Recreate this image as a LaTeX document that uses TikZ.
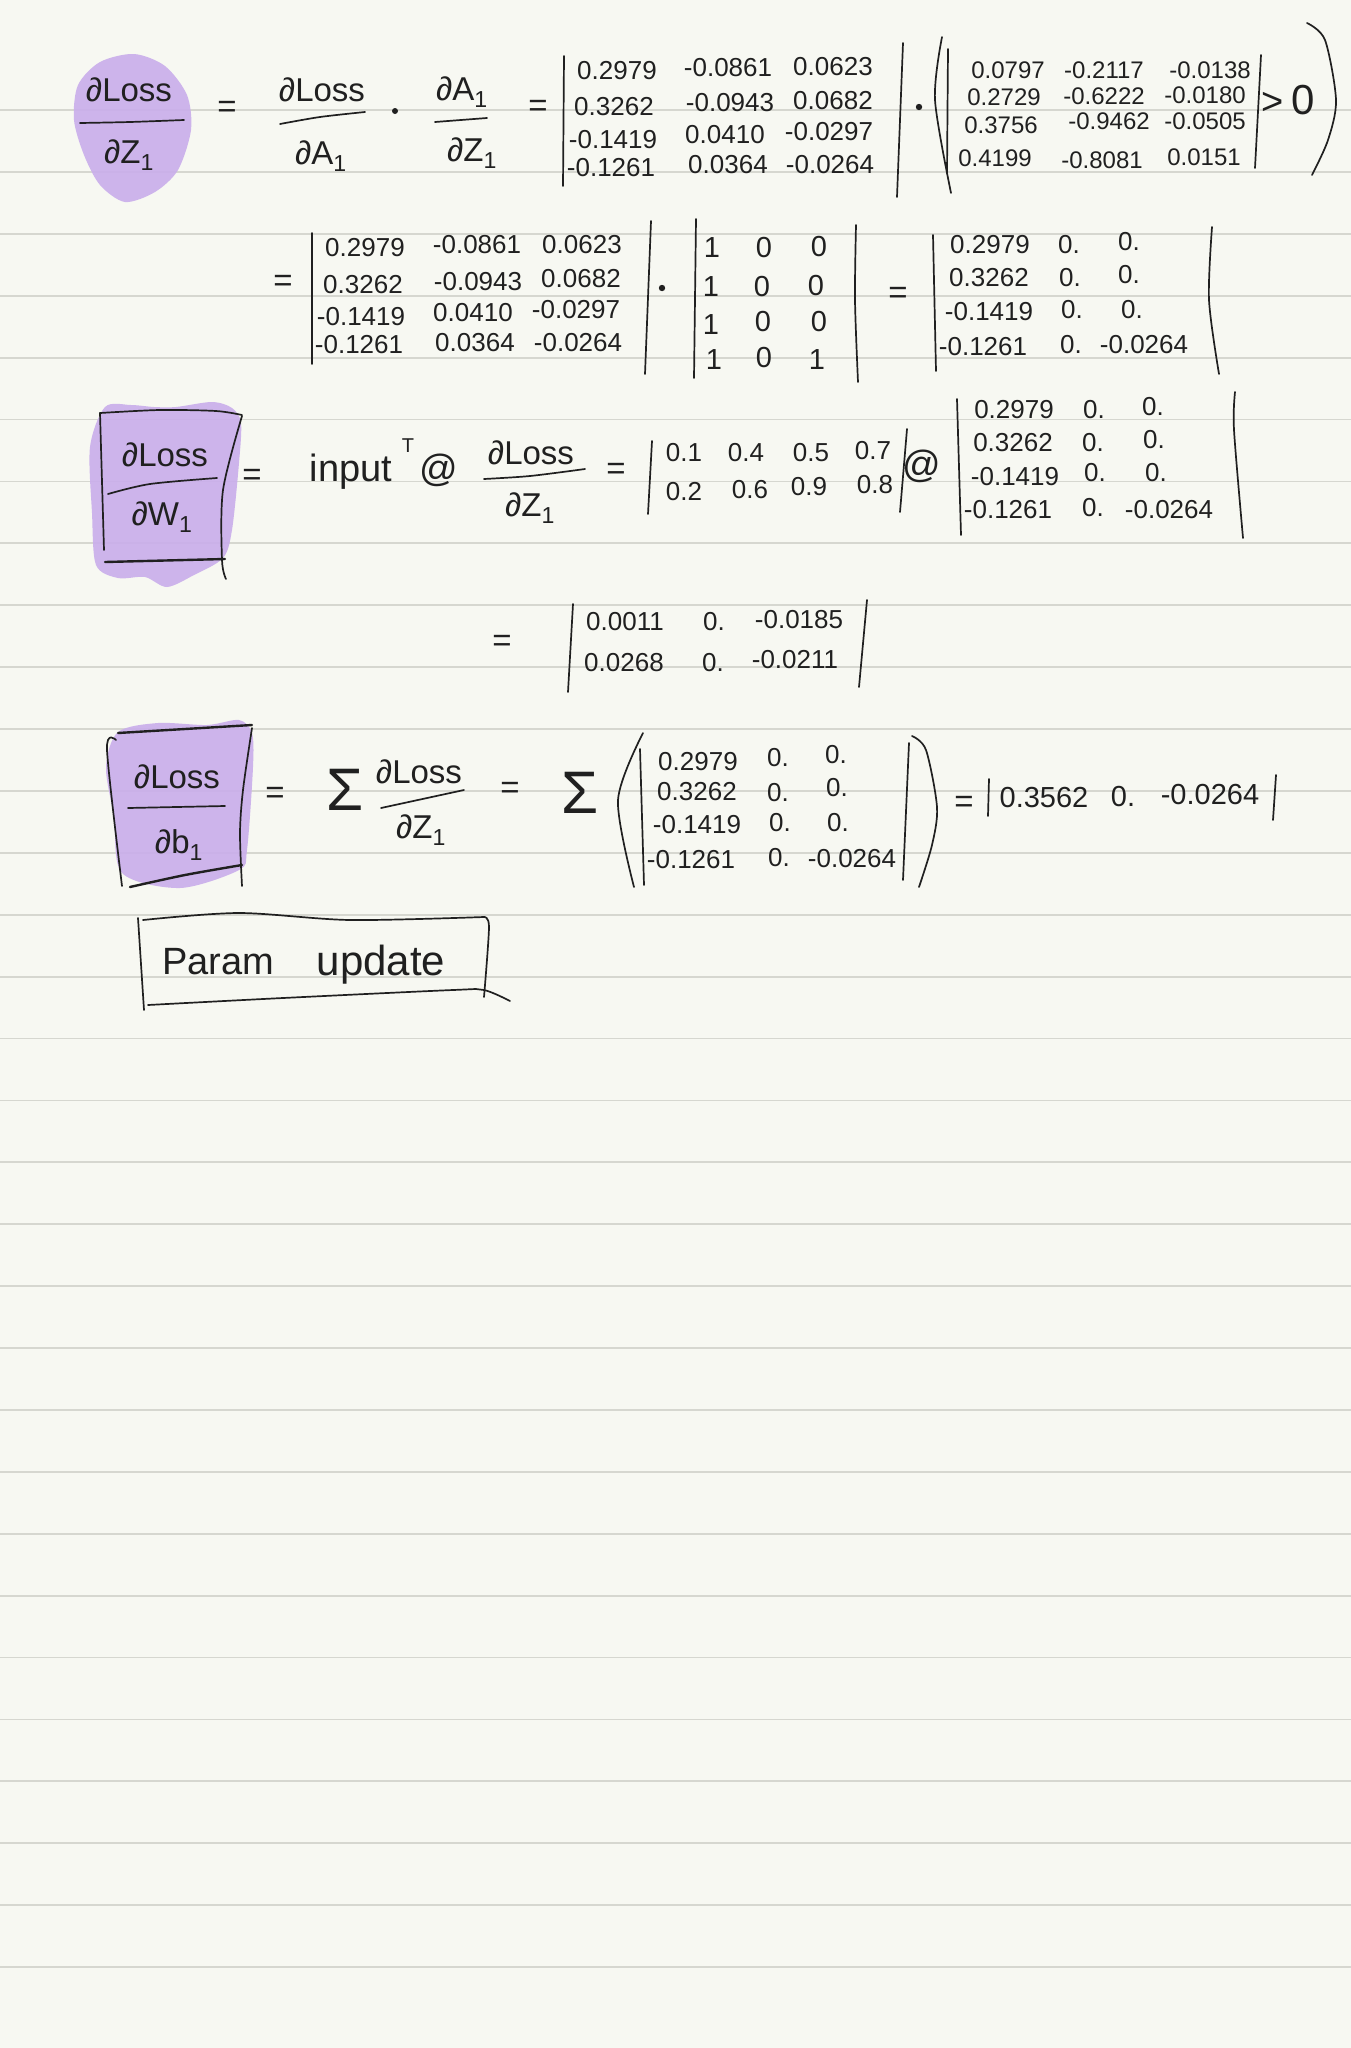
\documentclass[tikz,border=0pt]{standalone}
\usepackage{fontspec}
\setmainfont{Liberation Sans}
\definecolor{paper}{HTML}{F7F8F2}
\definecolor{rule}{HTML}{D6D7D0}
\definecolor{ink}{HTML}{202020}
\definecolor{hilite}{HTML}{C9ADEB}
\newcommand{\subone}{\textsubscript{1}}
\tikzset{
  ruleline/.style={draw=rule,line width=1.8pt},
  blob/.style={fill=hilite,draw=none,opacity=.9},
  stroke/.style={draw=ink,line width=1.7pt,line cap=round,line join=round},
  heavy/.style={draw=ink,line width=2.4pt,line cap=round,line join=round},
  txt/.style={text=ink,inner sep=0pt,anchor=center},
  numa/.style={txt,font=\fontsize{26}{26}\selectfont},
  numb/.style={txt,font=\fontsize{24}{24}\selectfont},
  numc/.style={txt,font=\fontsize{29}{29}\selectfont},
  frac/.style={txt,font=\fontsize{33}{33}\selectfont},
  big/.style={txt,font=\fontsize{38}{38}\selectfont},
  bigger/.style={txt,font=\fontsize{42}{42}\selectfont},
  sigma/.style={txt,font=\fontsize{60}{60}\selectfont},
}
\begin{document}
\begin{tikzpicture}[x=1pt,y=-1pt]
\useasboundingbox (0,0) rectangle (1351,2048);
\fill[paper] (0,0) rectangle (1351,2048);
\foreach \n in {0,...,30} \draw[ruleline] (0,{110+61.9*\n}) -- (1351,{110+61.9*\n});
% highlights
\fill[blob] plot[smooth cycle] coordinates {(134,54)(165,66)(187,95)(191,130)(178,170)(155,192)(125,202)(100,185)(84,155)(74,120)(78,85)(100,62)};
\fill[blob] plot[smooth cycle,tension=.5] coordinates {(105,407)(131,405)(154,407)(176,407)(212,402)(232,408)(241,423)(239,463)(232,530)(223,558)(194,575)(167,587)(145,577)(118,578)(96,565)(92,513)(90,447)};
\fill[blob] plot[smooth cycle,tension=.5] coordinates {(118,732)(158,723)(207,725)(239,720)(252,733)(253,767)(247,850)(239,870)(180,888)(122,873)(114,817)(106,767)};
% row 1
\foreach \x/\y/\lab in {129/90/∂Loss,129/155/∂Z\subone,322/90/∂Loss,321/156/∂A\subone,462/92/∂A\subone,472/153/∂Z\subone,227/109/=,538/108/=,
  165/455/∂Loss,162/517/∂W\subone,252/477/=,531/453/∂Loss,530/508/∂Z\subone,616/471/=,502/643/=,
  177/777/∂Loss,179/845/∂b\subone,275/795/=,419/772/∂Loss,421/830/∂Z\subone,510/790/=,283/283/=,898/295/=,964/804/=}
  \node[frac] (f\x-\y) at (\x,\y) {\lab};
\draw[stroke] plot[smooth] coordinates {(80,123)(130,122)(184,120)};
\draw[stroke] plot[smooth] coordinates {(280,124)(320,117)(365,112)};
\draw[stroke] (435,122) -- (487,118);
\fill[ink] (395,111) circle (3);
\foreach \x/\y/\lab in {617/71/0.2979,614/107/0.3262,613/140/-0.1419,611/168/-0.1261,
  728/68/-0.0861,730/103/-0.0943,725/135/0.0410,728/165/0.0364,
  833/67/0.0623,833/101/0.0682,829/132/-0.0297,830/165/-0.0264,
  365/248/0.2979,363/285/0.3262,361/317/-0.1419,359/345/-0.1261,
  477/245/-0.0861,478/282/-0.0943,473/313/0.0410,475/343/0.0364,
  582/245/0.0623,581/279/0.0682,576/310/-0.0297,578/343/-0.0264,
  990/245/0.2979,989/278/0.3262,989/312/-0.1419,983/347/-0.1261,
  1069/245/0.,1070/278/0.,1072/310/0.,1071/345/0.,
  1129/242/0.,1129/275/0.,1132/310/0.,1144/345/-0.0264,
  1014/410/0.2979,1013/443/0.3262,1015/477/-0.1419,1008/510/-0.1261,
  1094/410/0.,1093/443/0.,1095/473/0.,1093/508/0.,
  1153/407/0.,1154/440/0.,1156/473/0.,1169/510/-0.0264,
  684/453/0.1,684/492/0.2,746/453/0.4,750/490/0.6,811/453/0.5,809/487/0.9,873/451/0.7,875/485/0.8,
  625/622/0.0011,624/663/0.0268,714/622/0.,713/663/0.,799/620/-0.0185,795/660/-0.0211,
  698/762/0.2979,697/792/0.3262,697/825/-0.1419,691/860/-0.1261,
  778/758/0.,778/793/0.,780/823/0.,779/858/0.,
  836/755/0.,837/788/0.,838/823/0.,852/859/-0.0264}
  \node[numa] (a\x-\y) at (\x,\y) {\lab};
\foreach \x/\y/\lab in {1008/70/0.0797,1004/97/0.2729,1001/125/0.3756,995/158/0.4199,
  1104/70/-0.2117,1104/96/-0.6222,1109/121/-0.9462,1102/160/-0.8081,
  1210/70/-0.0138,1205/95/-0.0180,1205/121/-0.0505,1204/157/0.0151}
  \node[numb] (b\x-\y) at (\x,\y) {\lab};
\foreach \x/\y/\lab in {712/248/1,764/248/0,819/247/0,711/287/1,762/287/0,816/286/0,711/325/1,763/322/0,819/322/0,714/360/1,764/358/0,817/360/1}
  \node[numc] (c\x-\y) at (\x,\y) {\lab};
\foreach \x/\y/\lab in {1044/798/0.3562,1123/797/0.,1210/795/-0.0264}
  \node[numc] (d\x-\y) at (\x,\y) {\lab};
% matrix bars, row 1
\draw[stroke] (564,56) -- (563,186);
\draw[stroke] (903,43) -- (897,197);
\fill[ink] (919,107) circle (3.2);
\draw[stroke] plot[smooth] coordinates {(942,37)(935,100)(951,193)};
\draw[stroke] (948,49) -- (947,173);
\draw[stroke] (1261,55) -- (1255,168);
\node[big] (gt) at (1273,103) {>};
\node[bigger] (zero) at (1303,100) {0};
\draw[stroke] plot[smooth] coordinates {(1307,23)(1325,40)(1336,100)(1328,140)(1312,175)};
% row 2
\draw[stroke] (312,233) -- (312,364);
\draw[stroke] (651,221) -- (645,374);
\fill[ink] (662,288) circle (3.2);
\draw[stroke] (696,219) -- (694,378);
\draw[stroke] plot[smooth] coordinates {(856,225)(855,300)(858,382)};
\draw[stroke] (933,235) -- (936,371);
\draw[stroke] plot[smooth] coordinates {(1212,227)(1209,300)(1219,374)};
% row 3
\draw[stroke] (100,413) -- (104,550);
\draw[stroke] plot[smooth] coordinates {(100,413)(160,410)(216,411)(242,415)};
\draw[stroke] plot[smooth] coordinates {(242,416)(223,490)(222,560)(226,579)};
\draw[heavy] (105,562) -- (225,559);
\draw[stroke] plot[smooth] coordinates {(108,494)(150,484)(217,478)};
\node[big] (inp) at (351,472) {input};
\node[txt,font=\fontsize{20}{20}\selectfont] (tsup) at (408,446) {T};
\node[big] (at1) at (439,470) {@};
\draw[stroke] plot[smooth] coordinates {(484,479)(530,476)(585,469)};
\draw[stroke] (652,441) -- (648,514);
\draw[stroke] (907,429) -- (900,512);
\node[big] (at2) at (922,466) {@};
\draw[stroke] (957,399) -- (961,535);
\draw[stroke] plot[smooth] coordinates {(1235,392)(1234,430)(1243,538)};
% row 4
\draw[stroke] (573,604) -- (568,692);
\draw[stroke] (867,600) -- (859,687);
% row 5
\draw[heavy] (118,733) -- (252,725);
\draw[stroke] plot[smooth] coordinates {(116,740)(107,750)(122,886)};
\draw[stroke] plot[smooth] coordinates {(252,728)(243,790)(240,833)(242,886)};
\draw[heavy] plot[smooth] coordinates {(130,887)(185,875)(242,865)};
\draw[stroke] (128,808) -- (225,806);
\node[sigma] (s1) at (345,790) {Σ};
\draw[stroke] (381,808) -- (464,790);
\node[sigma] (s2) at (580,793) {Σ};
\draw[stroke] plot[smooth] coordinates {(643,733)(618,800)(634,887)};
\draw[stroke] (640,749) -- (644,885);
\draw[stroke] (909,743) -- (903,880);
\draw[stroke] plot[smooth] coordinates {(912,736)(926,750)(937,807)(932,845)(919,887)};
\draw[stroke] (989,779) -- (988,816);
\draw[stroke] (1276,775) -- (1273,820);
% Param update
\draw[stroke] plot[smooth] coordinates {(143,920)(239,913)(350,920)(484,917)};
\draw[stroke] plot[smooth] coordinates {(484,917)(489,927)(484,997)};
\draw[stroke] (138,918) -- (144,1010);
\draw[stroke] plot[smooth] coordinates {(148,1005)(283,998)(453,990)(484,990)(510,1001)};
\node[big] (param) at (218,962) {Param};
\node[bigger] (update) at (381,965) {update};
\end{tikzpicture}
\end{document}
